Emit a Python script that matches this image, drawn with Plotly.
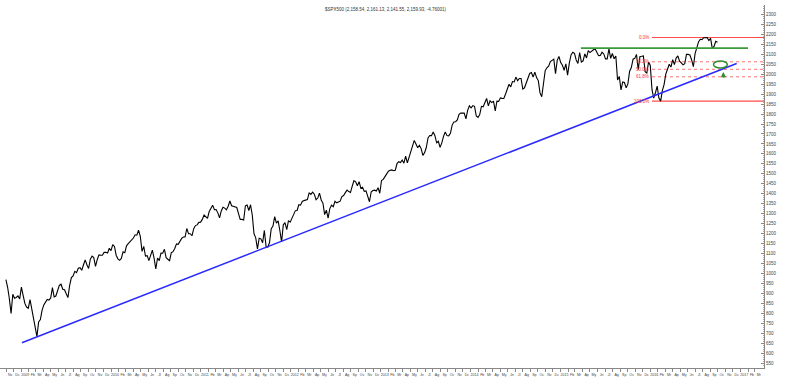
import pandas as pd
import plotly.graph_objects as go

# Weekly closes, week ending Fridays starting 2008-10-31
closes_2008 = [968.75, 930.99, 873.29, 800.03, 896.24, 876.07, 879.73, 887.88, 872.80]
closes_2009 = [931.80, 890.35, 850.12, 831.95, 825.88, 868.60, 826.84, 770.05, 735.09, 683.38,
               756.55, 768.54, 815.94, 842.50, 856.56, 869.60, 866.23, 877.52, 929.23, 882.88,
               887.00, 919.14, 940.09, 946.21, 921.23, 918.90, 896.42, 879.13, 940.38, 979.26,
               987.48, 1010.48, 1004.09, 1026.13, 1028.93, 1016.40, 1042.73, 1068.30, 1044.38, 1025.21,
               1071.49, 1087.68, 1079.60, 1036.19, 1069.30, 1093.48, 1091.38, 1091.49, 1105.98, 1106.41,
               1102.47, 1126.48]
closes_2010 = [1115.10, 1144.98, 1136.03, 1091.76, 1073.87, 1066.19, 1075.51, 1109.17, 1104.49, 1138.70,
               1149.99, 1159.90, 1166.59, 1178.10, 1194.37, 1192.13, 1217.28, 1186.69, 1110.88, 1135.68,
               1087.69, 1089.41, 1064.88, 1091.60, 1117.51, 1076.76, 1022.58, 1077.96, 1064.88, 1102.66,
               1101.60, 1121.64, 1079.25, 1071.69, 1064.59, 1104.51, 1109.55, 1125.59, 1148.67, 1146.24,
               1165.15, 1176.19, 1183.08, 1183.26, 1225.85, 1199.21, 1199.73, 1189.40, 1224.71, 1240.40,
               1243.91, 1256.77, 1257.64]
closes_2011 = [1271.50, 1293.24, 1283.35, 1276.34, 1310.87, 1329.15, 1343.01, 1319.88, 1321.15, 1304.28,
               1279.20, 1313.80, 1332.41, 1328.17, 1319.68, 1337.38, 1363.61, 1340.20, 1337.77, 1333.27,
               1331.10, 1300.16, 1270.98, 1271.50, 1268.45, 1339.67, 1343.80, 1316.14, 1345.02, 1292.28,
               1199.38, 1178.81, 1123.53, 1176.80, 1173.97, 1154.23, 1216.01, 1136.43, 1131.42, 1155.46,
               1224.58, 1238.25, 1285.09, 1253.23, 1263.85, 1215.65, 1158.67, 1244.28, 1255.19, 1219.66,
               1265.33, 1257.60]
closes_2012 = [1277.81, 1289.09, 1315.38, 1316.33, 1344.90, 1342.64, 1361.23, 1365.74, 1369.63, 1370.87,
               1404.17, 1397.11, 1408.47, 1398.08, 1370.26, 1378.53, 1403.36, 1369.10, 1353.39, 1295.22,
               1317.82, 1278.04, 1325.66, 1342.84, 1335.02, 1362.16, 1354.68, 1356.78, 1362.66, 1385.97,
               1390.99, 1405.87, 1418.16, 1411.13, 1406.58, 1437.92, 1465.77, 1460.15, 1440.67, 1460.93,
               1428.59, 1433.19, 1411.94, 1414.20, 1379.85, 1359.88, 1409.15, 1416.18, 1418.07, 1413.58,
               1430.15, 1402.43]
closes_2013 = [1466.47, 1472.05, 1485.98, 1502.96, 1513.17, 1517.93, 1519.79, 1515.60, 1518.20, 1551.18,
               1560.70, 1556.89, 1569.19, 1553.28, 1588.85, 1555.25, 1582.24, 1614.42, 1633.70, 1667.47,
               1649.60, 1630.74, 1643.38, 1626.73, 1592.43, 1606.28, 1631.89, 1680.19, 1692.09, 1691.65,
               1709.67, 1691.42, 1655.83, 1663.50, 1632.97, 1655.17, 1687.99, 1709.91, 1691.75, 1690.50,
               1703.20, 1744.50, 1759.77, 1761.64, 1770.61, 1798.18, 1804.76, 1805.81, 1805.09, 1775.32,
               1818.32, 1841.40]
closes_2014 = [1831.37, 1842.37, 1838.70, 1790.29, 1782.59, 1797.02, 1838.63, 1836.25, 1859.45, 1878.04,
               1841.13, 1866.52, 1857.62, 1865.09, 1815.69, 1864.85, 1863.40, 1881.14, 1878.48, 1877.86,
               1900.53, 1923.57, 1949.44, 1936.16, 1962.87, 1960.96, 1985.44, 1967.57, 1978.22, 1978.34,
               1925.15, 1931.59, 1955.06, 1988.40, 2003.37, 2007.71, 1985.54, 2010.40, 1982.85, 1967.90,
               1906.13, 1886.76, 1964.58, 2018.05, 2031.92, 2039.82, 2063.50, 2067.56, 2075.37, 2002.33,
               2070.65, 2088.77]
closes_2015 = [2058.20, 2044.81, 2019.42, 2051.82, 1994.99, 2055.47, 2096.99, 2110.30, 2104.50, 2071.26,
               2053.40, 2108.10, 2061.02, 2066.96, 2102.06, 2081.18, 2117.69, 2108.29, 2116.10, 2122.73,
               2126.06, 2107.39, 2092.83, 2094.11, 2109.99, 2101.49, 2076.78, 2076.62, 2126.64, 2079.65,
               2103.84, 2077.57, 2091.54, 1970.89, 1988.87, 1921.22, 1961.05, 1958.03, 1931.34, 1951.36,
               2014.89, 2033.11, 2075.15, 2079.36, 2099.20, 2023.04, 2089.17, 2090.11, 2091.69, 2012.37,
               2005.55, 2060.99]
closes_2016 = [2043.94, 1922.03, 1880.33, 1906.90, 1940.24, 1880.05, 1864.78, 1917.78, 1948.05, 1999.99,
               2022.19, 2049.58, 2035.94, 2072.78, 2047.60, 2080.73, 2091.58, 2065.30, 2057.14, 2046.61,
               2052.32, 2099.06, 2099.13, 2096.07, 2071.22, 2037.41, 2102.95, 2129.90, 2161.74, 2175.03,
               2173.60, 2182.87, 2184.05, 2183.87, 2169.04, 2179.98, 2127.81, 2139.16, 2164.69, 2159.93]

closes = (closes_2008 + closes_2009 + closes_2010 + closes_2011 + closes_2012 +
          closes_2013 + closes_2014 + closes_2015 + closes_2016)
weeks = pd.date_range("2008-10-31", periods=len(closes), freq="W-FRI")

title_text = "$SPX500 (2,158.54, 2,161.13, 2,141.55, 2,159.93, -4.76001)"

# Trend / resistance lines
trend_dates = ["2009-01-04", "2016-12-17"]
trend_values = [653, 2053.5]
resist_dates = ["2015-03-25", "2017-02-01"]
resist_values = [2130.5, 2130.5]

# Fibonacci retracement
fib_high = 2184.05
fib_low = 1864.78
fib_ratios = [0.0, 0.382, 0.5, 0.618, 1.0]
fib_labels = ["0.0%", "38.2%", "50.0%", "61.8%", "100.0%"]
fib_start = "2016-01-08"
fib_end = "2017-04-07"
fib_label_date = "2016-01-04"

# Target ellipse and arrow
ellipse_center = ("2016-10-12", 2048.5)
ellipse_half = (28, 17.6)  # days, points
arrow_pos = ("2016-10-24", 2011)

# Axis ticks
month_abbr = ["", "Fb", "Mr", "Ap", "My", "Jn", "Jl", "Ag", "Sp", "Oc", "Nv", "Dc"]
tick_months = pd.date_range("2008-11-01", "2017-03-01", freq="MS")
tick_text = [str(d.year) if d.month == 1 else month_abbr[d.month - 1] for d in tick_months]
y_ticks = list(range(550, 2301, 50))

fig = go.Figure()

rng = fib_high - fib_low
for r, lab in zip(fib_ratios, fib_labels):
    lvl = fib_high - r * rng
    solid = r in (0.0, 1.0)
    fig.add_shape(type="line", xref="x", yref="y", x0=fib_start, x1=fib_end, y0=lvl, y1=lvl,
                  layer="below",
                  line=dict(color="#ff4d4d", width=1.2 if solid else 0.8,
                            dash="solid" if solid else "dot"))
    fig.add_annotation(x=fib_label_date, y=lvl, text=lab, showarrow=False,
                       xanchor="right", yanchor="middle",
                       font=dict(size=4.5, color="#ff3030", family="Liberation Sans"))

fig.add_trace(go.Scatter(x=weeks, y=closes, mode="lines",
                         line=dict(color="black", width=1.1), hoverinfo="skip"))
fig.add_trace(go.Scatter(x=trend_dates, y=trend_values, mode="lines",
                         line=dict(color="#2a2aff", width=1.5)))
fig.add_trace(go.Scatter(x=resist_dates, y=resist_values, mode="lines",
                         line=dict(color="#3a9a3a", width=1.6)))

cx = pd.Timestamp(ellipse_center[0])
dx = pd.Timedelta(days=ellipse_half[0])
fig.add_shape(type="circle", xref="x", yref="y",
              x0=cx - dx, x1=cx + dx,
              y0=ellipse_center[1] - ellipse_half[1], y1=ellipse_center[1] + ellipse_half[1],
              line=dict(color="#2f8f2f", width=1.5))
fig.add_annotation(x=arrow_pos[0], y=arrow_pos[1], ax=0, ay=7, showarrow=True,
                   arrowhead=2, arrowsize=0.8, arrowwidth=1.3, arrowcolor="#2f8f2f", text="")

fig.add_annotation(xref="paper", yref="paper", x=0.505, y=1.0, text=title_text,
                   showarrow=False, xanchor="center", yanchor="top",
                   font=dict(size=4.5, color="#333", family="Liberation Sans"))

fig.update_layout(
    width=786, height=380, margin=dict(l=0, r=22, t=5, b=12),
    paper_bgcolor="white", plot_bgcolor="white", showlegend=False,
    xaxis=dict(type="date", range=["2008-10-07", "2017-04-07"], tickvals=tick_months,
               ticktext=tick_text, ticks="outside", ticklen=3, tickcolor="#888",
               tickangle=0,
               showline=True, linecolor="#888", linewidth=1, showgrid=False, zeroline=False,
               tickfont=dict(size=3.6, color="#444", family="Liberation Sans Narrow, Liberation Sans"),
               ticklabelshift=4, ticklabelstandoff=0),
    yaxis=dict(side="right", range=[526, 2347], tickvals=y_ticks, ticks="inside", ticklen=3,
               tickcolor="#888", showline=True, linecolor="#888", linewidth=1,
               showgrid=False, zeroline=False,
               tickfont=dict(size=4.5, color="#444", family="Liberation Sans"),
               minor=dict(dtick=10, ticks="inside", ticklen=1.5, tickcolor="#aaa")),
)
fig.write_html("out.html")
